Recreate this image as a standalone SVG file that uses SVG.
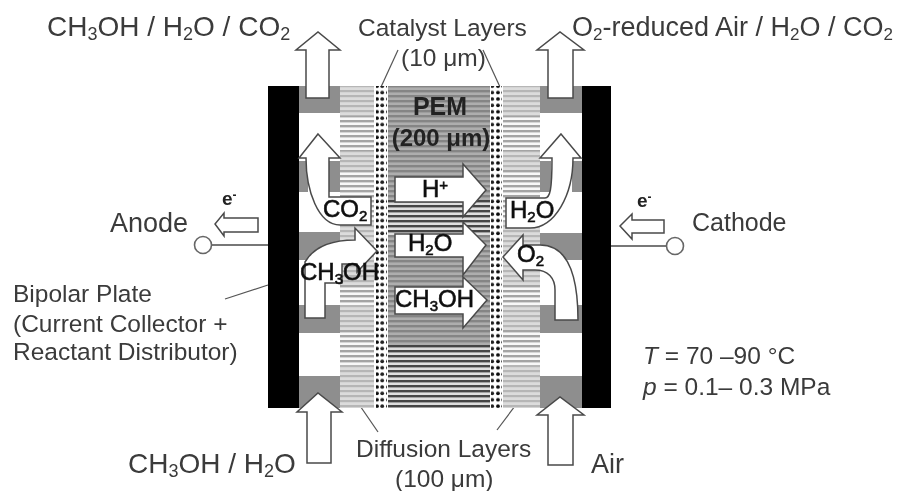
<svg xmlns="http://www.w3.org/2000/svg" width="911" height="491" viewBox="0 0 911 491">
<style>
text{font-family:"Liberation Sans",Arial,sans-serif;fill:#3a3a3a}
.big{font-size:27px}
.big28{font-size:28px}
.mid{font-size:24.5px}
.in{font-size:24px;fill:#111;stroke:#111;stroke-width:.6}
.bold{font-weight:bold;fill:#222}
.flow{fill:#fff;stroke:#4a4a4a;stroke-width:1.5;stroke-linejoin:miter}
.wire{stroke:#777;stroke-width:2;fill:none}
.lead{stroke:#555;stroke-width:1.2;fill:none}
.plate{fill:#000}
.gray{fill:#8e8e8e}
</style>
<defs>
<filter id="soft" x="-5%" y="-5%" width="110%" height="110%"><feGaussianBlur stdDeviation="0.55"/></filter>
<filter id="tsoft" x="-5%" y="-5%" width="110%" height="110%"><feGaussianBlur stdDeviation="0.4"/></filter>
<pattern id="dA" width="5" height="5" patternUnits="userSpaceOnUse"><rect width="5" height="5" fill="#dcdcdc"/><rect width="5" height="2.2" fill="#b6b6b6"/></pattern>
<pattern id="dB" width="5" height="5" patternUnits="userSpaceOnUse"><rect width="5" height="5" fill="#f8f8f8"/><rect width="5" height="2.4" fill="#a4a4a4"/></pattern>
<pattern id="mA" width="5" height="5" patternUnits="userSpaceOnUse"><rect width="5" height="5" fill="#aeaeae"/><rect width="5" height="2.4" fill="#858585"/></pattern>
<pattern id="mB" width="5" height="5" patternUnits="userSpaceOnUse"><rect width="5" height="5" fill="#dedede"/><rect width="5" height="2.4" fill="#444"/></pattern>
<pattern id="cat" width="11" height="6.4" patternUnits="userSpaceOnUse"><rect width="11" height="6.4" fill="#fff"/><circle cx="3" cy="3" r="1.9" fill="#111"/><circle cx="8.2" cy="3" r="1.9" fill="#222"/></pattern>
</defs>

<g id="connectors">
<path class="lead" d="M381,87 L398,50"/>
<path class="lead" d="M500,87 L483,50"/>
<path class="lead" d="M356,400 L378,432"/>
<path class="lead" d="M521,398 L497,430"/>
<path class="lead" d="M225,299 L268,285"/>
<path class="wire" d="M212,245 H268"/>
<path class="wire" d="M611,246 H666"/>
</g>

<g id="anode-plate"><rect class="plate" x="268" y="86" width="31" height="322"/></g>
<g id="cathode-plate"><rect class="plate" x="582" y="86" width="29" height="322"/></g>

<g id="anode-distributor" filter="url(#soft)">
<rect class="gray" x="299" y="86" width="41" height="27"/>
<rect class="gray" x="299" y="161" width="9" height="31"/>
<rect class="gray" x="329" y="161" width="11" height="31"/>
<rect class="gray" x="299" y="232" width="41" height="28"/>
<rect class="gray" x="299" y="305" width="41" height="28"/>
<rect class="gray" x="299" y="376" width="41" height="32"/>
</g>
<g id="cathode-distributor" filter="url(#soft)">
<rect class="gray" x="540" y="86" width="42" height="27"/>
<rect class="gray" x="540" y="161" width="11" height="31"/>
<rect class="gray" x="572" y="161" width="10" height="31"/>
<rect class="gray" x="540" y="233" width="42" height="27"/>
<rect class="gray" x="540" y="305" width="42" height="28"/>
<rect class="gray" x="540" y="376" width="42" height="32"/>
</g>

<g id="anode-diffusion-layer" filter="url(#soft)">
<rect x="340" y="86" width="34" height="322" fill="url(#dA)"/>
<rect x="340" y="116" width="34" height="35" fill="url(#dB)"/>
<rect x="340" y="170" width="34" height="50" fill="url(#dB)"/>
<rect x="340" y="285" width="34" height="20" fill="url(#dB)"/>
<rect x="340" y="330" width="34" height="35" fill="url(#dB)"/>
</g>
<g id="cathode-diffusion-layer" filter="url(#soft)">
<rect x="503" y="86" width="37" height="322" fill="url(#dA)"/>
<rect x="503" y="116" width="37" height="35" fill="url(#dB)"/>
<rect x="503" y="170" width="37" height="50" fill="url(#dB)"/>
<rect x="503" y="285" width="37" height="20" fill="url(#dB)"/>
<rect x="503" y="330" width="37" height="35" fill="url(#dB)"/>
</g>

<g id="anode-catalyst-layer" filter="url(#soft)"><rect x="376" y="86" width="11" height="322" fill="url(#cat)"/></g>
<g id="cathode-catalyst-layer" filter="url(#soft)"><rect x="491" y="86" width="11" height="322" fill="url(#cat)"/></g>

<g id="pem" filter="url(#soft)">
<rect x="388" y="86" width="102" height="322" fill="url(#mA)"/>
<rect x="388" y="200" width="102" height="35" fill="url(#mB)"/>
<rect x="388" y="345" width="102" height="63" fill="url(#mB)"/>
</g>
<g id="pem-label" filter="url(#tsoft)">
<text x="440" y="115" text-anchor="middle" font-size="25" class="bold">PEM</text>
<text x="441" y="146" text-anchor="middle" font-size="24" class="bold">(200 μm)</text>
</g>

<g id="flow-arrows" filter="url(#tsoft)">
<path id="arrow-top-left" class="flow" d="M306,98 V50 H296 L318,32 L340,50 H329 V98 Z"/>
<path id="arrow-top-right" class="flow" d="M548,98 V50 H537 L560,32 L584,50 H573 V98 Z"/>
<path id="arrow-bottom-left" class="flow" d="M307,463 V412 H297 L318,393 L342,412 H331 V463 Z"/>
<path id="arrow-bottom-right" class="flow" d="M548,465 V415 H537 L560,397 L584,415 H573 V465 Z"/>
<path id="arrow-co2" class="flow" d="M318,134 L340,158 H329 V197 H371 V225 H340 C318,225 306,190 306,158 H299 Z"/>
<path id="arrow-ch3oh-in" class="flow" d="M305,318 H325 V283 H342 V264 H357 V272 L377,251 L355,228 V240 C335,240 315,245 305,262 Z"/>
<path id="arrow-h2o-out" class="flow" d="M561,134 L581,158 H573 C573,195 555,228 530,228 H506 V198 H545 C550,198 552,190 552,158 H540 Z"/>
<path id="arrow-o2-in" class="flow" d="M503,257 L523,235 V245 H540 C565,245 578,270 578,320 H555 V290 C555,278 548,270 535,270 H523 V280 Z"/>
<path id="arrow-h-plus" class="flow" d="M395,177 H463 V164 L486,190 L463,217 V202 H395 Z"/>
<path id="arrow-h2o" class="flow" d="M395,234 H463 V222 L486,245 L463,275 V257 H395 Z"/>
<path id="arrow-ch3oh" class="flow" d="M395,287 H463 V277 L487,300 L463,328 V314 H395 Z"/>
<path id="arrow-e-left" class="flow" d="M258,218 H224 V213 L215,224 L224,236 V232 H258 Z"/>
<path id="arrow-e-right" class="flow" d="M664,220 H632 V214 L620,226 L632,239 V233 H664 Z"/>
</g>

<g id="anode-terminal"><circle cx="203" cy="245" r="8.5" fill="#fff" stroke="#666" stroke-width="1.6"/></g>
<g id="cathode-terminal"><circle cx="675" cy="246" r="8.5" fill="#fff" stroke="#666" stroke-width="1.6"/></g>

<g id="labels" filter="url(#tsoft)">
<text x="47" y="36" class="big28">CH<tspan font-size="18" dy="4">3</tspan><tspan dy="-4">OH / H</tspan><tspan font-size="18" dy="4">2</tspan><tspan dy="-4">O / CO</tspan><tspan font-size="18" dy="4">2</tspan></text>
<text x="572" y="36" class="big">O<tspan font-size="17" dy="4">2</tspan><tspan dy="-4">-reduced Air / H</tspan><tspan font-size="17" dy="4">2</tspan><tspan dy="-4">O / CO</tspan><tspan font-size="17" dy="4">2</tspan></text>
<text x="358" y="36" class="mid">Catalyst Layers</text>
<text x="401" y="66" class="mid">(10 μm)</text>
<text x="110" y="232" class="big">Anode</text>
<text x="692" y="231" font-size="25">Cathode</text>
<text x="222" y="205" font-size="19" class="bold">e<tspan font-size="12" dy="-6">-</tspan></text>
<text x="637" y="207" font-size="19" class="bold">e<tspan font-size="12" dy="-6">-</tspan></text>
<text x="13" y="302" class="mid">Bipolar Plate</text>
<text x="13" y="332" class="mid">(Current Collector +</text>
<text x="13" y="360" class="mid">Reactant Distributor)</text>
<text x="128" y="473" class="big28">CH<tspan font-size="18" dy="4">3</tspan><tspan dy="-4">OH / H</tspan><tspan font-size="18" dy="4">2</tspan><tspan dy="-4">O</tspan></text>
<text x="356" y="457" class="mid">Diffusion Layers</text>
<text x="395" y="487" class="mid">(100 μm)</text>
<text x="591" y="473" class="big">Air</text>
<text x="643" y="364" class="mid"><tspan font-style="italic">T</tspan> = 70 –90 °C</text>
<text x="643" y="395" class="mid"><tspan font-style="italic">p</tspan> = 0.1– 0.3 MPa</text>
<text x="422" y="197" class="in">H<tspan font-size="15" dy="-7">+</tspan></text>
<text x="408" y="251" class="in">H<tspan font-size="15" dy="4">2</tspan><tspan dy="-4">O</tspan></text>
<text x="395" y="307" class="in">CH<tspan font-size="15" dy="4">3</tspan><tspan dy="-4">OH</tspan></text>
<text x="323" y="217" class="in">CO<tspan font-size="15" dy="4">2</tspan></text>
<text x="300" y="280" class="in">CH<tspan font-size="15" dy="4">3</tspan><tspan dy="-4">OH</tspan></text>
<text x="510" y="218" class="in">H<tspan font-size="15" dy="4">2</tspan><tspan dy="-4">O</tspan></text>
<text x="517" y="262" class="in">O<tspan font-size="15" dy="4">2</tspan></text>
</g>
</svg>
